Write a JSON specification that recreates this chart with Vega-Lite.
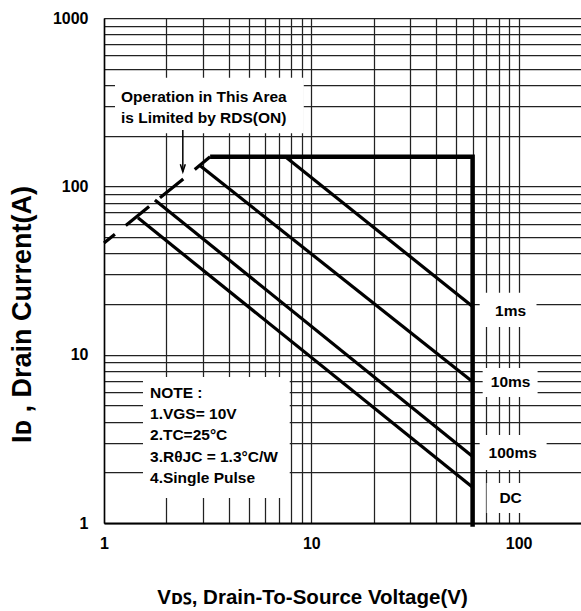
{
  "$schema": "https://vega.github.io/schema/vega-lite/v6.json",
  "width": 477,
  "height": 505,
  "autosize": "none",
  "padding": {"left": 104, "top": 18, "right": 0, "bottom": 88},
  "background": "white",
  "config": {"view": {"stroke": null}, "font": "Liberation Sans"},
  "datasets": {
    "boxes": [
      {"name": "op", "v1": 1.13, "v2": 9.2, "i1": 207, "i2": 441},
      {"name": "note", "v1": 1.542, "v2": 7.87, "i1": 1.41, "i2": 7.37},
      {"name": "1ms", "v1": 64.9, "v2": 122, "i1": 14.6, "i2": 23.3},
      {"name": "10ms", "v1": 67.1, "v2": 123.5, "i1": 5.61, "i2": 8.34},
      {"name": "100ms", "v1": 64.9, "v2": 136.5, "i1": 2.065, "i2": 3.33},
      {"name": "DC", "v1": 70.1, "v2": 122, "i1": 1.147, "i2": 1.73}
    ],
    "curves": [
      {"series": "limit", "ord": 1, "v": 3.25, "i": 150},
      {"series": "limit", "ord": 2, "v": 60, "i": 150},
      {"series": "limit", "ord": 3, "v": 60, "i": 0.95},
      {"series": "1ms", "ord": 1, "v": 7.5, "i": 150},
      {"series": "1ms", "ord": 2, "v": 60, "i": 19.3},
      {"series": "10ms", "ord": 1, "v": 2.9, "i": 133},
      {"series": "10ms", "ord": 2, "v": 60, "i": 6.9},
      {"series": "100ms", "ord": 1, "v": 1.76, "i": 83},
      {"series": "100ms", "ord": 2, "v": 60, "i": 2.48},
      {"series": "DC", "ord": 1, "v": 1.458, "i": 65},
      {"series": "DC", "ord": 2, "v": 60, "i": 1.63},
      {"series": "rds_solid", "ord": 1, "v": 2.74, "i": 126},
      {"series": "rds_solid", "ord": 2, "v": 3.25, "i": 150},
      {"series": "rds_dash", "ord": 1, "v": 1, "i": 46},
      {"series": "rds_dash", "ord": 2, "v": 2.42, "i": 111},
      {"series": "arrow", "ord": 1, "v": 2.4, "i": 216},
      {"series": "arrow", "ord": 2, "v": 2.4, "i": 122}
    ],
    "texts": [
      {"grp": "left", "txt": "Operation in This Area", "v": 1.208, "i": 340},
      {"grp": "left", "txt": "is Limited by RDS(ON)", "v": 1.208, "i": 255},
      {"grp": "left", "txt": "NOTE :", "v": 1.667, "i": 5.92},
      {"grp": "left", "txt": "1.VGS= 10V", "v": 1.667, "i": 4.47},
      {"grp": "left", "txt": "2.TC=25°C", "v": 1.667, "i": 3.33},
      {"grp": "left", "txt": "3.RθJC = 1.3°C/W", "v": 1.667, "i": 2.47},
      {"grp": "left", "txt": "4.Single Pulse", "v": 1.667, "i": 1.85},
      {"grp": "right", "txt": "1ms", "v": 91.5, "i": 18.2},
      {"grp": "right", "txt": "10ms", "v": 91.5, "i": 6.91},
      {"grp": "right", "txt": "100ms", "v": 93.6, "i": 2.61},
      {"grp": "right", "txt": "DC", "v": 91.5, "i": 1.408}
    ]
  },
  "layer": [
    {
      "data": {"name": "boxes"},
      "mark": {"type": "rect", "fill": "white", "stroke": null},
      "encoding": {
        "x": {
          "field": "v1", "type": "quantitative",
          "scale": {"type": "log", "domain": [1, 200], "nice": false},
          "axis": {
            "values": [1, 2, 3, 4, 5, 6, 7, 8, 9, 10, 20, 30, 40, 50, 60, 70, 80, 90, 100],
            "labelExpr": "indexof([1, 10, 100], datum.value) >= 0 ? format(datum.value, 'd') : ''",
            "grid": true, "gridColor": "#222", "gridWidth": 1.25,
            "ticks": false, "domain": true, "domainColor": "#000", "domainWidth": 2,
            "labelFont": "Liberation Sans", "labelFontWeight": "bold", "labelFontSize": 16,
            "labelColor": "#000", "labelPadding": 12, "labelFlush": false, "labelOverlap": false,
            "title": "Vᴅꜱ, Drain-To-Source Voltage(V)",
            "titleFont": "Liberation Sans", "titleFontSize": 20.5, "titleFontWeight": "bold", "titleColor": "#000",
            "titleX": 208, "titleY": 74, "titleAlign": "center", "titleBaseline": "middle"
          }
        },
        "x2": {"field": "v2"},
        "y": {
          "field": "i1", "type": "quantitative",
          "scale": {"type": "log", "domain": [1, 1000], "nice": false},
          "axis": {
            "values": [1, 2, 3, 4, 5, 6, 7, 8, 9, 10, 20, 30, 40, 50, 60, 70, 80, 90, 100, 200, 300, 400, 500, 600, 700, 800, 900, 1000],
            "labelExpr": "indexof([1, 10, 100, 1000], datum.value) >= 0 ? format(datum.value, 'd') : ''",
            "grid": true, "gridColor": "#222", "gridWidth": 1.25,
            "ticks": false, "domain": true, "domainColor": "#000", "domainWidth": 1.5,
            "labelFont": "Liberation Sans", "labelFontWeight": "bold", "labelFontSize": 16,
            "labelColor": "#000", "labelPadding": 16, "labelFlush": false, "labelOverlap": false,
            "title": "Iᴅ , Drain Current(A)",
            "titleFont": "Liberation Sans", "titleFontSize": 27, "titleFontWeight": "bold", "titleColor": "#000",
            "titleX": -82, "titleY": 296, "titleAngle": 270, "titleAlign": "center", "titleBaseline": "middle"
          }
        },
        "y2": {"field": "i2"}
      }
    },
    {
      "data": {"name": "curves"},
      "transform": [{"filter": "datum.series === 'limit'"}],
      "mark": {"type": "line", "color": "#000", "strokeWidth": 4.5, "strokeJoin": "miter", "strokeCap": "butt"},
      "encoding": {
        "x": {"field": "v", "type": "quantitative"},
        "y": {"field": "i", "type": "quantitative"},
        "order": {"field": "ord"}
      }
    },
    {
      "data": {"name": "curves"},
      "transform": [{"filter": "indexof(['1ms', '10ms', '100ms', 'DC', 'rds_solid'], datum.series) >= 0"}],
      "mark": {"type": "line", "color": "#000", "strokeWidth": 3.2, "strokeCap": "butt"},
      "encoding": {
        "x": {"field": "v", "type": "quantitative"},
        "y": {"field": "i", "type": "quantitative"},
        "detail": {"field": "series"},
        "order": {"field": "ord"}
      }
    },
    {
      "data": {"name": "curves"},
      "transform": [{"filter": "datum.series === 'rds_dash'"}],
      "mark": {"type": "line", "color": "#000", "strokeWidth": 3.2, "strokeCap": "butt", "strokeDash": [30, 14], "strokeDashOffset": 16},
      "encoding": {
        "x": {"field": "v", "type": "quantitative"},
        "y": {"field": "i", "type": "quantitative"},
        "order": {"field": "ord"}
      }
    },
    {
      "data": {"name": "curves"},
      "transform": [{"filter": "datum.series === 'arrow'"}],
      "mark": {"type": "line", "color": "#000", "strokeWidth": 1.5},
      "encoding": {
        "x": {"field": "v", "type": "quantitative"},
        "y": {"field": "i", "type": "quantitative"},
        "order": {"field": "ord"}
      }
    },
    {
      "data": {"name": "curves"},
      "transform": [{"filter": "datum.series === 'arrow' && datum.ord === 2"}],
      "mark": {"type": "point", "shape": "M -0.33 -1 L 0 0 L 0.33 -1", "size": 225, "filled": false, "stroke": "#000", "strokeWidth": 1.5, "opacity": 1},
      "encoding": {
        "x": {"field": "v", "type": "quantitative"},
        "y": {"field": "i", "type": "quantitative"}
      }
    },
    {
      "data": {"name": "texts"},
      "transform": [{"filter": "datum.grp === 'left'"}],
      "mark": {"type": "text", "align": "left", "baseline": "middle", "font": "Liberation Sans", "fontWeight": "bold", "fontSize": 15.5, "color": "#000"},
      "encoding": {
        "x": {"field": "v", "type": "quantitative"},
        "y": {"field": "i", "type": "quantitative"},
        "text": {"field": "txt"}
      }
    },
    {
      "data": {"name": "texts"},
      "transform": [{"filter": "datum.grp === 'right'"}],
      "mark": {"type": "text", "align": "center", "baseline": "middle", "font": "Liberation Sans", "fontWeight": "bold", "fontSize": 15.5, "color": "#000"},
      "encoding": {
        "x": {"field": "v", "type": "quantitative"},
        "y": {"field": "i", "type": "quantitative"},
        "text": {"field": "txt"}
      }
    }
  ]
}
